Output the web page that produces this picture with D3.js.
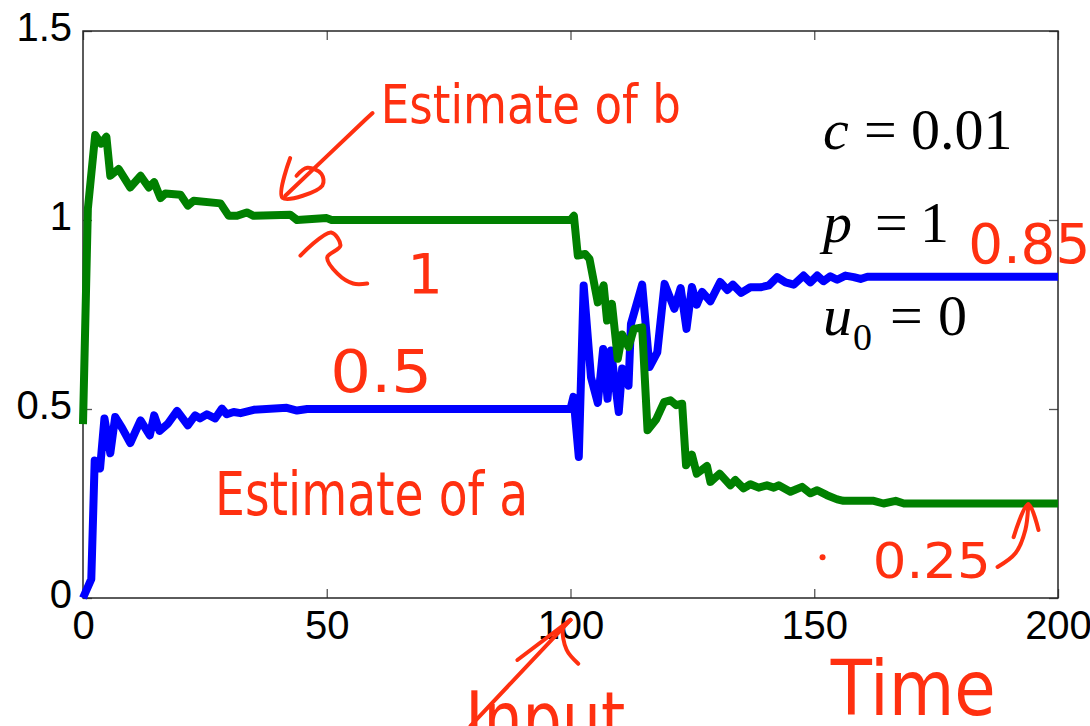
<!DOCTYPE html>
<html lang="en">
<head>
  <meta charset="UTF-8">
  <title>Parameter estimates</title>
  <style>
    body { margin: 0; background: #fff; }
    svg { display: block; }
  </style>
</head>
<body>
  <script src="https://d3js.org/d3.v7.min.js"></script>
  <script>
    // estimate of a (blue): vertices
    const timeA = [0, 1.7, 2.4, 3.5, 4.4, 5.6, 6.6, 8, 9.7, 11.8, 13.7, 14.6, 15.7, 17.4, 19.3, 21.5, 23, 24, 25.4, 27.1, 28.5, 29.5, 30.9, 32.3, 35, 41.8, 43.9, 46, 100,
      100.6, 101.7, 102.7, 104.2, 105.6, 106.7, 107.6, 108.3, 109, 109.9, 110.6, 111.3, 111.9, 112.4, 114.7, 116.2, 117.8, 119.3, 121.3, 122.6, 123.8, 124.9, 125.9, 127, 128.7,
      130.7, 132.2, 133.3, 135, 136.9, 139, 140.7, 142.4, 144.1, 145.8, 147.8, 149.2, 150.6, 151.9, 153.3, 154.7, 156.4, 158.1, 159.5, 160.9, 200];
    const estA = [0, 0.05, 0.364, 0.343, 0.475, 0.383, 0.479, 0.45, 0.41, 0.47, 0.43, 0.483, 0.442, 0.461, 0.495, 0.457, 0.483, 0.475, 0.486, 0.475, 0.501, 0.486, 0.492, 0.489, 0.498, 0.503, 0.496, 0.5, 0.5,
      0.532, 0.373, 0.827, 0.584, 0.516, 0.659, 0.527, 0.655, 0.584, 0.492, 0.607, 0.59, 0.562, 0.725, 0.829, 0.611, 0.65, 0.831, 0.765, 0.82, 0.712, 0.823, 0.776, 0.81, 0.785,
      0.836, 0.815, 0.829, 0.807, 0.822, 0.822, 0.827, 0.849, 0.835, 0.829, 0.853, 0.835, 0.853, 0.838, 0.851, 0.842, 0.853, 0.849, 0.844, 0.85, 0.85];

    // estimate of b (green)
    const timeB = [0, 1, 2.5, 3.7, 4.8, 5.6, 7.3, 9.7, 11.8, 13.5, 14.6, 15.9, 16.9, 20, 21.5, 22.7, 28.2, 29.9, 31.6, 33.6, 35, 42.5, 43.9, 50, 51, 100,
      100.7, 101.5, 103, 103.9, 105.6, 106.8, 107.5, 108.5, 109.7, 110.6, 111.9, 113, 114.7, 115.8, 117.6, 119.2, 120.5, 121.7, 122.9, 123.7, 124.9, 125.9, 128, 128.7,
      130.6, 132.8, 133.8, 135.5, 136.9, 138.6, 140.3, 141.7, 142.7, 145.1, 147.5, 149.2, 150.6, 152.6, 154.7, 156, 162.2, 164.2, 166.7, 168.4, 200];
    const estB = [0.46, 1.03, 1.225, 1.202, 1.22, 1.117, 1.135, 1.086, 1.117, 1.086, 1.1, 1.058, 1.07, 1.067, 1.038, 1.051, 1.044, 1.011, 1.011, 1.02, 1.011, 1.014, 1.0, 1.005, 1.0, 1.0,
      1.011, 0.906, 0.91, 0.897, 0.782, 0.827, 0.734, 0.778, 0.633, 0.697, 0.664, 0.712, 0.716, 0.444, 0.473, 0.518, 0.523, 0.51, 0.514, 0.351, 0.379, 0.329, 0.349, 0.307,
      0.329, 0.298, 0.312, 0.29, 0.301, 0.292, 0.298, 0.292, 0.298, 0.281, 0.294, 0.277, 0.285, 0.272, 0.261, 0.257, 0.257, 0.25, 0.257, 0.25, 0.25];

    const xTicks = [0, 50, 100, 150, 200];
    const yTicks = [0, 0.5, 1, 1.5];
    const yTickLabels = ['0', '0.5', '1', '1.5'];

    const [width, height] = [1090, 726];
    const margin = { top: 31, right: 32, bottom: 128, left: 83 };
    const red = '#ff3010';
    const handFont = "'DejaVu Sans', sans-serif";

    const svg = d3.select('body').append('svg').attr('width', width).attr('height', height);
    svg.append('rect').attr('width', width).attr('height', height).attr('fill', '#fff');

    // scales
    const xScale = d3.scaleLinear().domain([0, 200]).range([margin.left, width - margin.right]);
    const yScale = d3.scaleLinear().domain([0, 1.5]).range([height - margin.bottom, margin.top]);

    const tickStyle = g => {
      g.select('.domain').remove();
      g.selectAll('.tick line').attr('stroke', '#555').attr('stroke-width', 1.3);
      g.selectAll('.tick text')
        .attr('font-family', 'Liberation Sans, Arial, Helvetica, sans-serif')
        .attr('font-size', 40)
        .attr('fill', '#000');
    };

    // axes, ticks inside like matlab
    svg.append('g')
      .attr('transform', `translate(0, ${yScale(0)})`)
      .call(d3.axisBottom(xScale).tickValues(xTicks).tickSize(-9).tickFormat(d3.format('d')))
      .call(tickStyle)
      .call(g => g.selectAll('.tick text').attr('y', 41).attr('dy', 0));

    svg.append('g')
      .attr('transform', `translate(${xScale(0)}, 0)`)
      .call(d3.axisLeft(yScale).tickValues(yTicks).tickSize(-9).tickFormat((d, i) => yTickLabels[i]))
      .call(tickStyle)
      .call(g => g.selectAll('.tick text').attr('x', -11).attr('dy', 9));

    svg.append('g')
      .attr('transform', `translate(0, ${yScale(1.5)})`)
      .call(d3.axisTop(xScale).tickValues(xTicks).tickSize(-9).tickFormat(''))
      .call(tickStyle);

    svg.append('g')
      .attr('transform', `translate(${xScale(200)}, 0)`)
      .call(d3.axisRight(yScale).tickValues(yTicks).tickSize(-9).tickFormat(''))
      .call(tickStyle);

    // box
    svg.append('rect')
      .attr('x', xScale(0)).attr('y', yScale(1.5))
      .attr('width', xScale(200) - xScale(0))
      .attr('height', yScale(0) - yScale(1.5))
      .attr('fill', 'none')
      .attr('stroke', '#262626')
      .attr('stroke-width', 1.5);

    // lines
    const line = d3.line().x(d => xScale(d[0])).y(d => yScale(d[1]));
    svg.append('path')
      .datum(d3.zip(timeA, estA))
      .attr('d', line)
      .attr('fill', 'none')
      .attr('stroke', '#0000ff')
      .attr('stroke-width', 8)
      .attr('stroke-linejoin', 'round');
    svg.append('path')
      .datum(d3.zip(timeB, estB))
      .attr('d', line)
      .attr('fill', 'none')
      .attr('stroke', '#008000')
      .attr('stroke-width', 8)
      .attr('stroke-linejoin', 'round');

    // parameter text
    const serif = 'Liberation Serif, Times New Roman, serif';
    const params = [
      { v: 1.188, parts: [['c', 0, true], ['=', 41], ['0.01', 88]] },
      { v: 0.941, parts: [['p', 0, true], ['=', 52], ['1', 97]] },
      { v: 0.695, parts: [['u', 0, true], ['=', 67], ['0', 115]] }
    ];
    params.forEach(p => {
      const g = svg.append('g').attr('transform', `translate(${xScale(151.8)}, ${yScale(p.v)})`);
      p.parts.forEach(([s, dx, it]) => {
        g.append('text').attr('x', dx).attr('font-family', serif).attr('font-size', 58)
          .attr('font-style', it ? 'italic' : 'normal').text(s);
      });
    });
    svg.append('text')
      .attr('x', xScale(151.8) + 30).attr('y', yScale(0.695) + 15)
      .attr('font-family', serif).attr('font-size', 38).text('0');

    // handwritten notes
    const notes = [
      { text: 'Estimate of b', t: 61.1, v: 1.257, size: 54, len: 300 },
      { text: 'Estimate of a', t: 27.1, v: 0.219, size: 60, len: 313 },
      { text: '0.5', t: 50.7, v: 0.544, size: 58, len: 102 },
      { text: '1', t: 66.5, v: 0.808, size: 56 },
      { text: '0.85', t: 181.6, v: 0.887, size: 56, len: 122 },
      { text: '0.25', t: 162, v: 0.053, size: 50, len: 118 },
      { text: 'Time', t: 153.4, v: -0.31, size: 76, len: 165 },
      { text: 'Input', t: 78.4, v: -0.389, size: 75, len: 160 }
    ];
    notes.forEach(n => {
      const txt = svg.append('text')
        .attr('x', xScale(n.t)).attr('y', yScale(n.v))
        .attr('font-family', handFont)
        .attr('font-size', n.size)
        .attr('fill', red)
        .text(n.text);
      if (n.len) txt.attr('textLength', n.len).attr('lengthAdjust', 'spacingAndGlyphs');
    });

    // hand-drawn arrows, in data units
    const strokes = [
      [[59.4, 1.283], [57.9, 1.265], [41.5, 1.064]],
      [[42.5, 1.164], [40.9, 1.059], [49.1, 1.091], [48.9, 1.122], [46.0, 1.138], [43.8, 1.117]],
      [[44.6, 0.906], [50.9, 0.967], [52.8, 0.932], [50.1, 0.901], [52.2, 0.858], [55.4, 0.832], [58.3, 0.832]],
      [[187.6, 0.082], [191.3, 0.119], [193.3, 0.18], [193.9, 0.248]],
      [[190.9, 0.161], [193.9, 0.248], [196, 0.18]],
      [[79.5, -0.338], [100, -0.058]],
      [[89.1, -0.164], [100, -0.058]],
      [[100, -0.058], [98.5, -0.079], [99.2, -0.137], [101.6, -0.174]]
    ];
    const strokeLine = d3.line().x(d => xScale(d[0])).y(d => yScale(d[1])).curve(d3.curveCatmullRom);
    strokes.forEach(s => {
      svg.append('path')
        .attr('d', strokeLine(s))
        .attr('fill', 'none')
        .attr('stroke', red)
        .attr('stroke-width', 4)
        .attr('stroke-linecap', 'round')
        .attr('stroke-linejoin', 'round');
    });
    svg.append('circle')
      .attr('cx', xScale(151.7)).attr('cy', yScale(0.108))
      .attr('r', 3).attr('fill', red);
  </script>
</body>
</html>
